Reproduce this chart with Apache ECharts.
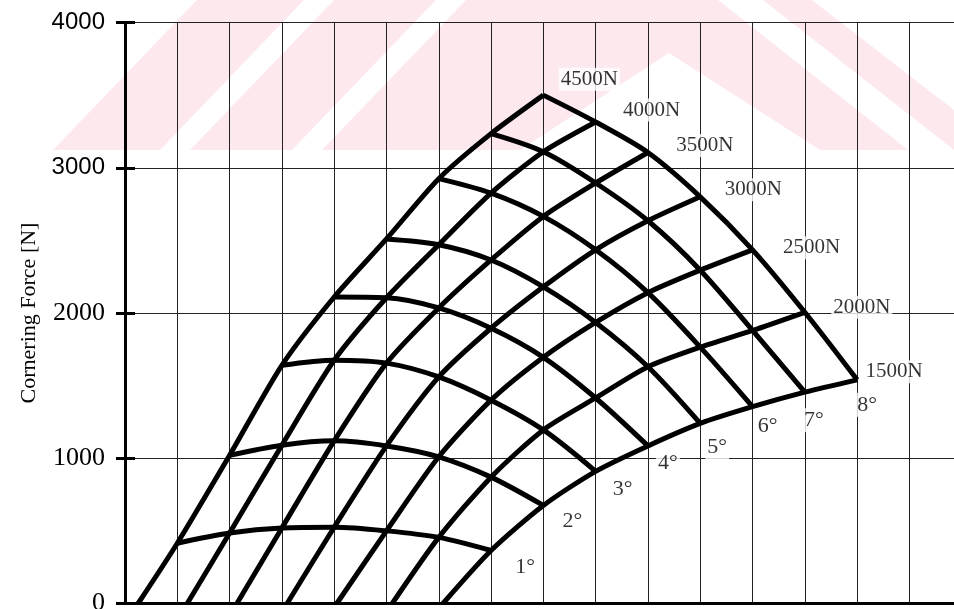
<!DOCTYPE html>
<html>
<head>
<meta charset="utf-8">
<script src="https://cdn.jsdelivr.net/npm/echarts@6/dist/echarts.min.js"></script>
<style>
  html, body { margin: 0; padding: 0; background: #fff; }
  #chart { width: 954px; height: 609px; }
</style>
</head>
<body>
<div id="chart"></div>
<script>
// wheel loads of the carpet, left to right along each slip-angle curve
const loads = [4500, 4000, 3500, 3000, 2500, 2000, 1500]
const angles = [1, 2, 3, 4, 5, 6, 7, 8]

// cornering force [N] for each slip angle, one value per load
const force1 = [415, 485, 520, 525, 500, 455, 365]
const force2 = [1020, 1090, 1120, 1085, 1010, 870, 675]
const force3 = [1640, 1675, 1655, 1560, 1400, 1195, 910]
const force4 = [2110, 2105, 2035, 1895, 1695, 1415, 1085]
const force5 = [2510, 2470, 2365, 2180, 1935, 1630, 1240]
const force6 = [2925, 2825, 2665, 2435, 2140, 1765, 1355]
const force7 = [3235, 3110, 2895, 2635, 2295, 1880, 1455]
const force8 = [3500, 3315, 3105, 2800, 2435, 2005, 1540]
const forces = [force1, force2, force3, force4, force5, force6, force7, force8]

// where each load line meets 0 N (carpet x units)
const zeroCross = [0.25, 1.19, 2.14, 3.10, 4.05, 5.11, 6.08]

// carpet plot: every load step of 500 N shifts one grid column to the left
function carpetX(angle, load) {
  return angle + 9 - load / 500
}

const chart = echarts.init(document.getElementById('chart'))

const serif = 'Liberation Serif'
const lineStyle = { color: '#000', width: 5 }
const series = []

angles.forEach((a, i) => {
  series.push({
    type: 'line',
    name: a + '°',
    symbol: 'none',
    smooth: 0.3,
    lineStyle: lineStyle,
    z: 3,
    data: loads.map((l, j) => [carpetX(a, l), forces[i][j]])
  })
})

loads.forEach((l, j) => {
  const pts = [[zeroCross[j], 0]]
  angles.forEach((a, i) => pts.push([carpetX(a, l), forces[i][j]]))
  series.push({
    type: 'line',
    name: l + 'N',
    symbol: 'none',
    smooth: 0.25,
    lineStyle: lineStyle,
    z: 3,
    data: pts
  })
})

// load labels next to the 8° curve, angle labels under the 1500 N curve
const loadLabelOffset = [[46, -16], [56, -12], [57, -7], [53, -7], [59, -2], [57, -5], [37, -8]]
const angleLabelOffset = [[34, 17], [29, 16], [27, 18], [20, 17], [17, 24], [15, 20], [9, 28], [10, 25]]

const labelBase = {
  show: true,
  position: 'inside',
  fontFamily: serif,
  fontSize: 21,
  color: '#000',
  backgroundColor: '#fff',
  padding: [1, 2]
}

series.push({
  type: 'scatter',
  symbolSize: 1,
  itemStyle: { color: 'rgba(0,0,0,0)' },
  z: 5,
  silent: true,
  data: loads.map((l, j) => ({
    value: [carpetX(8, l), force8[j]],
    label: Object.assign({}, labelBase, { formatter: l + 'N', offset: loadLabelOffset[j] })
  })).concat(angles.map((a, i) => ({
    value: [carpetX(a, 1500), forces[i][6]],
    label: Object.assign({}, labelBase, { formatter: a + '°', fontSize: 22, offset: angleLabelOffset[i] })
  })))
})

const pink = '#fde9ed'
const watermark = [
  [[53, 150], [160, 150], [304, 0], [197, 0]],
  [[190, 150], [292, 150], [436, 0], [334, 0]],
  [[322, 150], [466, 0], [718, 0], [908, 150]],
  [[763, 0], [812, 0], [954, 110], [954, 150]]
].map(p => ({
  type: 'polygon',
  z: -10,
  silent: true,
  shape: { points: p },
  style: { fill: pink }
}))
watermark.push({
  type: 'polygon',
  z: -9,
  silent: true,
  shape: { points: [[520, 150], [669, 53], [820, 150]] },
  style: { fill: '#fff' }
})

chart.setOption({
  backgroundColor: '#fff',
  animation: false,
  graphic: { elements: watermark },
  grid: { left: 125, top: 22.5, width: 889, height: 581, outerBoundsMode: 'none', containLabel: false },
  xAxis: [{
    type: 'value',
    min: 0,
    max: 17,
    interval: 1,
    axisLine: { lineStyle: { color: '#000', width: 3 } },
    axisTick: { show: false },
    axisLabel: { show: false },
    splitLine: { lineStyle: { color: '#222', width: 1 } }
  }, {
    type: 'value',
    position: 'top',
    min: 0,
    max: 17,
    interval: 1,
    axisLine: { show: true, lineStyle: { color: '#000', width: 3 } },
    axisTick: { show: false },
    axisLabel: { show: false },
    splitLine: { show: false }
  }],
  yAxis: [{
    type: 'value',
    min: 0,
    max: 4000,
    interval: 1000,
    name: 'Cornering Force [N]',
    nameLocation: 'middle',
    nameGap: 82,
    nameTextStyle: { fontFamily: serif, fontSize: 22, color: '#000' },
    axisLine: { show: true, lineStyle: { color: '#000', width: 3 } },
    axisTick: { show: true, length: 9, lineStyle: { color: '#000', width: 3 } },
    axisLabel: {
      margin: 20,
      formatter: v => (v >= 3000 ? '{s|' + v + '}' : '{t|' + v + '}'),
      rich: {
        s: { fontFamily: 'Liberation Sans', fontSize: 24, color: '#000' },
        t: { fontFamily: serif, fontSize: 26, color: '#000' }
      }
    },
    splitLine: { lineStyle: { color: '#222', width: 1 } }
  }, {
    type: 'value',
    min: 0,
    max: 4000,
    interval: 1000,
    position: 'left',
    axisLine: { show: false },
    axisTick: { show: true, inside: true, length: 10, lineStyle: { color: '#000', width: 3 } },
    axisLabel: { show: false },
    splitLine: { show: false }
  }],
  series: series
})
</script>
</body>
</html>
